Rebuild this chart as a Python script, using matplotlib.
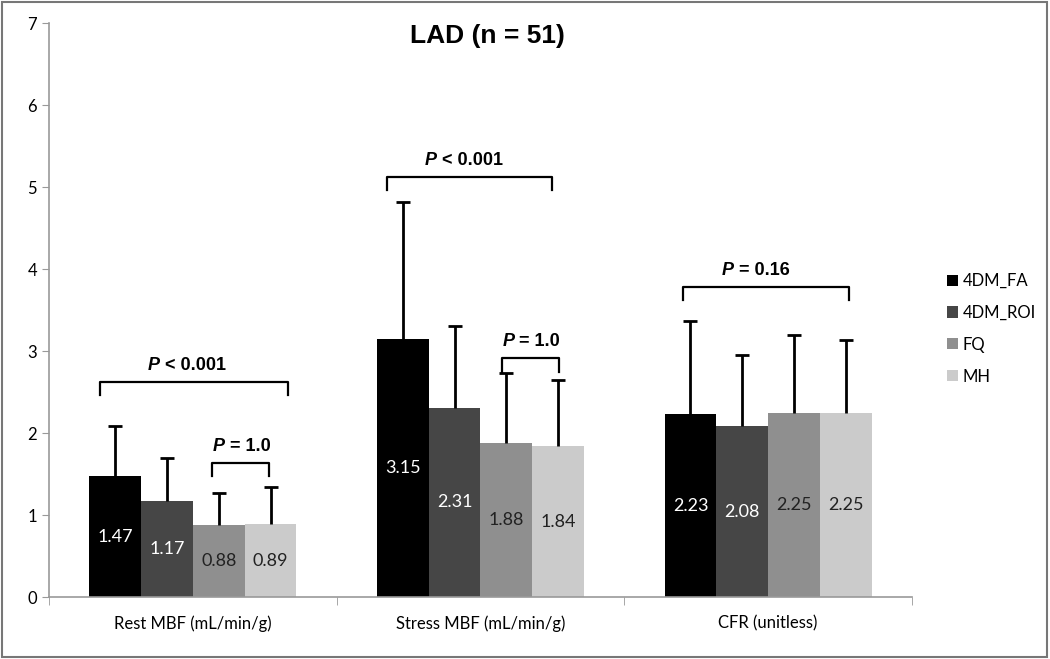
import numpy as np
import matplotlib.pyplot as plt
from matplotlib.patches import Rectangle

categories = ['Rest MBF (mL/min/g)', 'Stress MBF (mL/min/g)', 'CFR (unitless)']
methods = ['4DM_FA', '4DM_ROI', 'FQ', 'MH']
means = {
    '4DM_FA': [1.47, 3.15, 2.23],
    '4DM_ROI': [1.17, 2.31, 2.08],
    'FQ': [0.88, 1.88, 2.25],
    'MH': [0.89, 1.84, 2.25],
}
sds = {
    '4DM_FA': [0.62, 1.67, 1.14],
    '4DM_ROI': [0.53, 0.99, 0.87],
    'FQ': [0.39, 0.85, 0.95],
    'MH': [0.45, 0.81, 0.88],
}
colors = ['#000000', '#464646', '#8f8f8f', '#cbcbcb']
label_colors = ['white', 'white', '#222222', '#222222']

# p-value brackets: (x_left, x_right, y_top, text, text_left)
brackets = [
    (-0.323, 0.330, 2.62, ' < 0.001', -0.156),
    (0.066, 0.264, 1.63, ' = 1.0', 0.069),
    (0.674, 1.247, 5.12, ' < 0.001', 0.806),
    (1.076, 1.274, 2.91, ' = 1.0', 1.076),
    (1.705, 2.281, 3.78, ' = 0.16', 1.840),
]

plt.rcParams['font.family'] = ['Lato', 'DejaVu Sans']

fig = plt.figure(figsize=(10.5, 6.59), dpi=100)
ax = fig.add_axes([49/1050, 62/659, 863/1050, 574/659])

x = np.arange(len(categories))
w = 0.18
offs = [-1.5*w, -0.5*w, 0.5*w, 1.5*w]
for k, m in enumerate(methods):
    vals = np.array(means[m])
    err = np.array(sds[m])
    xs = x + offs[k]
    ax.bar(xs, vals, w, color=colors[k], label=m)
    # upper error bar only
    ax.vlines(xs, vals, vals + err, color='black', lw=2)
    ax.plot(xs, vals + err, ls='none', marker='_', ms=10, mew=2, color='black')
    for xi, v in zip(xs, vals):
        ax.text(xi, v/2, f'{v:.2f}', ha='center', va='center',
                color=label_colors[k], fontsize=13)

for xl, xr, yt, txt, tl in brackets:
    ax.plot([xl, xl, xr, xr], [yt-0.16, yt, yt, yt-0.16], color='black', lw=1.6)
    t1 = ax.text(tl, yt+0.1, 'P', fontsize=13, fontweight='bold', style='italic',
                 family='Liberation Sans', va='bottom')
    ax.annotate(txt, xy=(1, 0), xycoords=t1, va='bottom', fontsize=13,
                fontweight='bold', family='Liberation Sans')

ax.set_xlim(-0.5, 2.5)
ax.set_ylim(0, 7)
ax.set_yticks(range(8))
ax.tick_params(axis='y', labelsize=12, color='#999999', length=5)
ax.set_xticks(x)
ax.set_xticklabels(categories, fontsize=12)
ax.tick_params(axis='x', length=0, pad=13)
ax.set_xticks([-0.5, 0.5, 1.5, 2.5], minor=True)
ax.tick_params(axis='x', which='minor', length=6, color='#999999')
for s in ['top', 'right']:
    ax.spines[s].set_visible(False)
for s in ['left', 'bottom']:
    ax.spines[s].set_color('#999999')
    ax.spines[s].set_linewidth(1.2)

fig.text(487/1050, 1 - 36/659, 'LAD (n = 51)', ha='center', va='center',
         fontsize=19, fontweight='bold', family='Liberation Sans')

fig.legend(loc='upper left', bbox_to_anchor=(932/1050, 1 - 258/659),
           frameon=False, fontsize=12, handlelength=0.65, handleheight=0.65,
           handletextpad=0.3, labelspacing=0.95)

fig.patches.append(Rectangle((0.002, 0.003), 0.995, 0.994, transform=fig.transFigure,
                             fill=False, edgecolor='#777777', lw=1.5))

fig.savefig('out.png', dpi=100)
